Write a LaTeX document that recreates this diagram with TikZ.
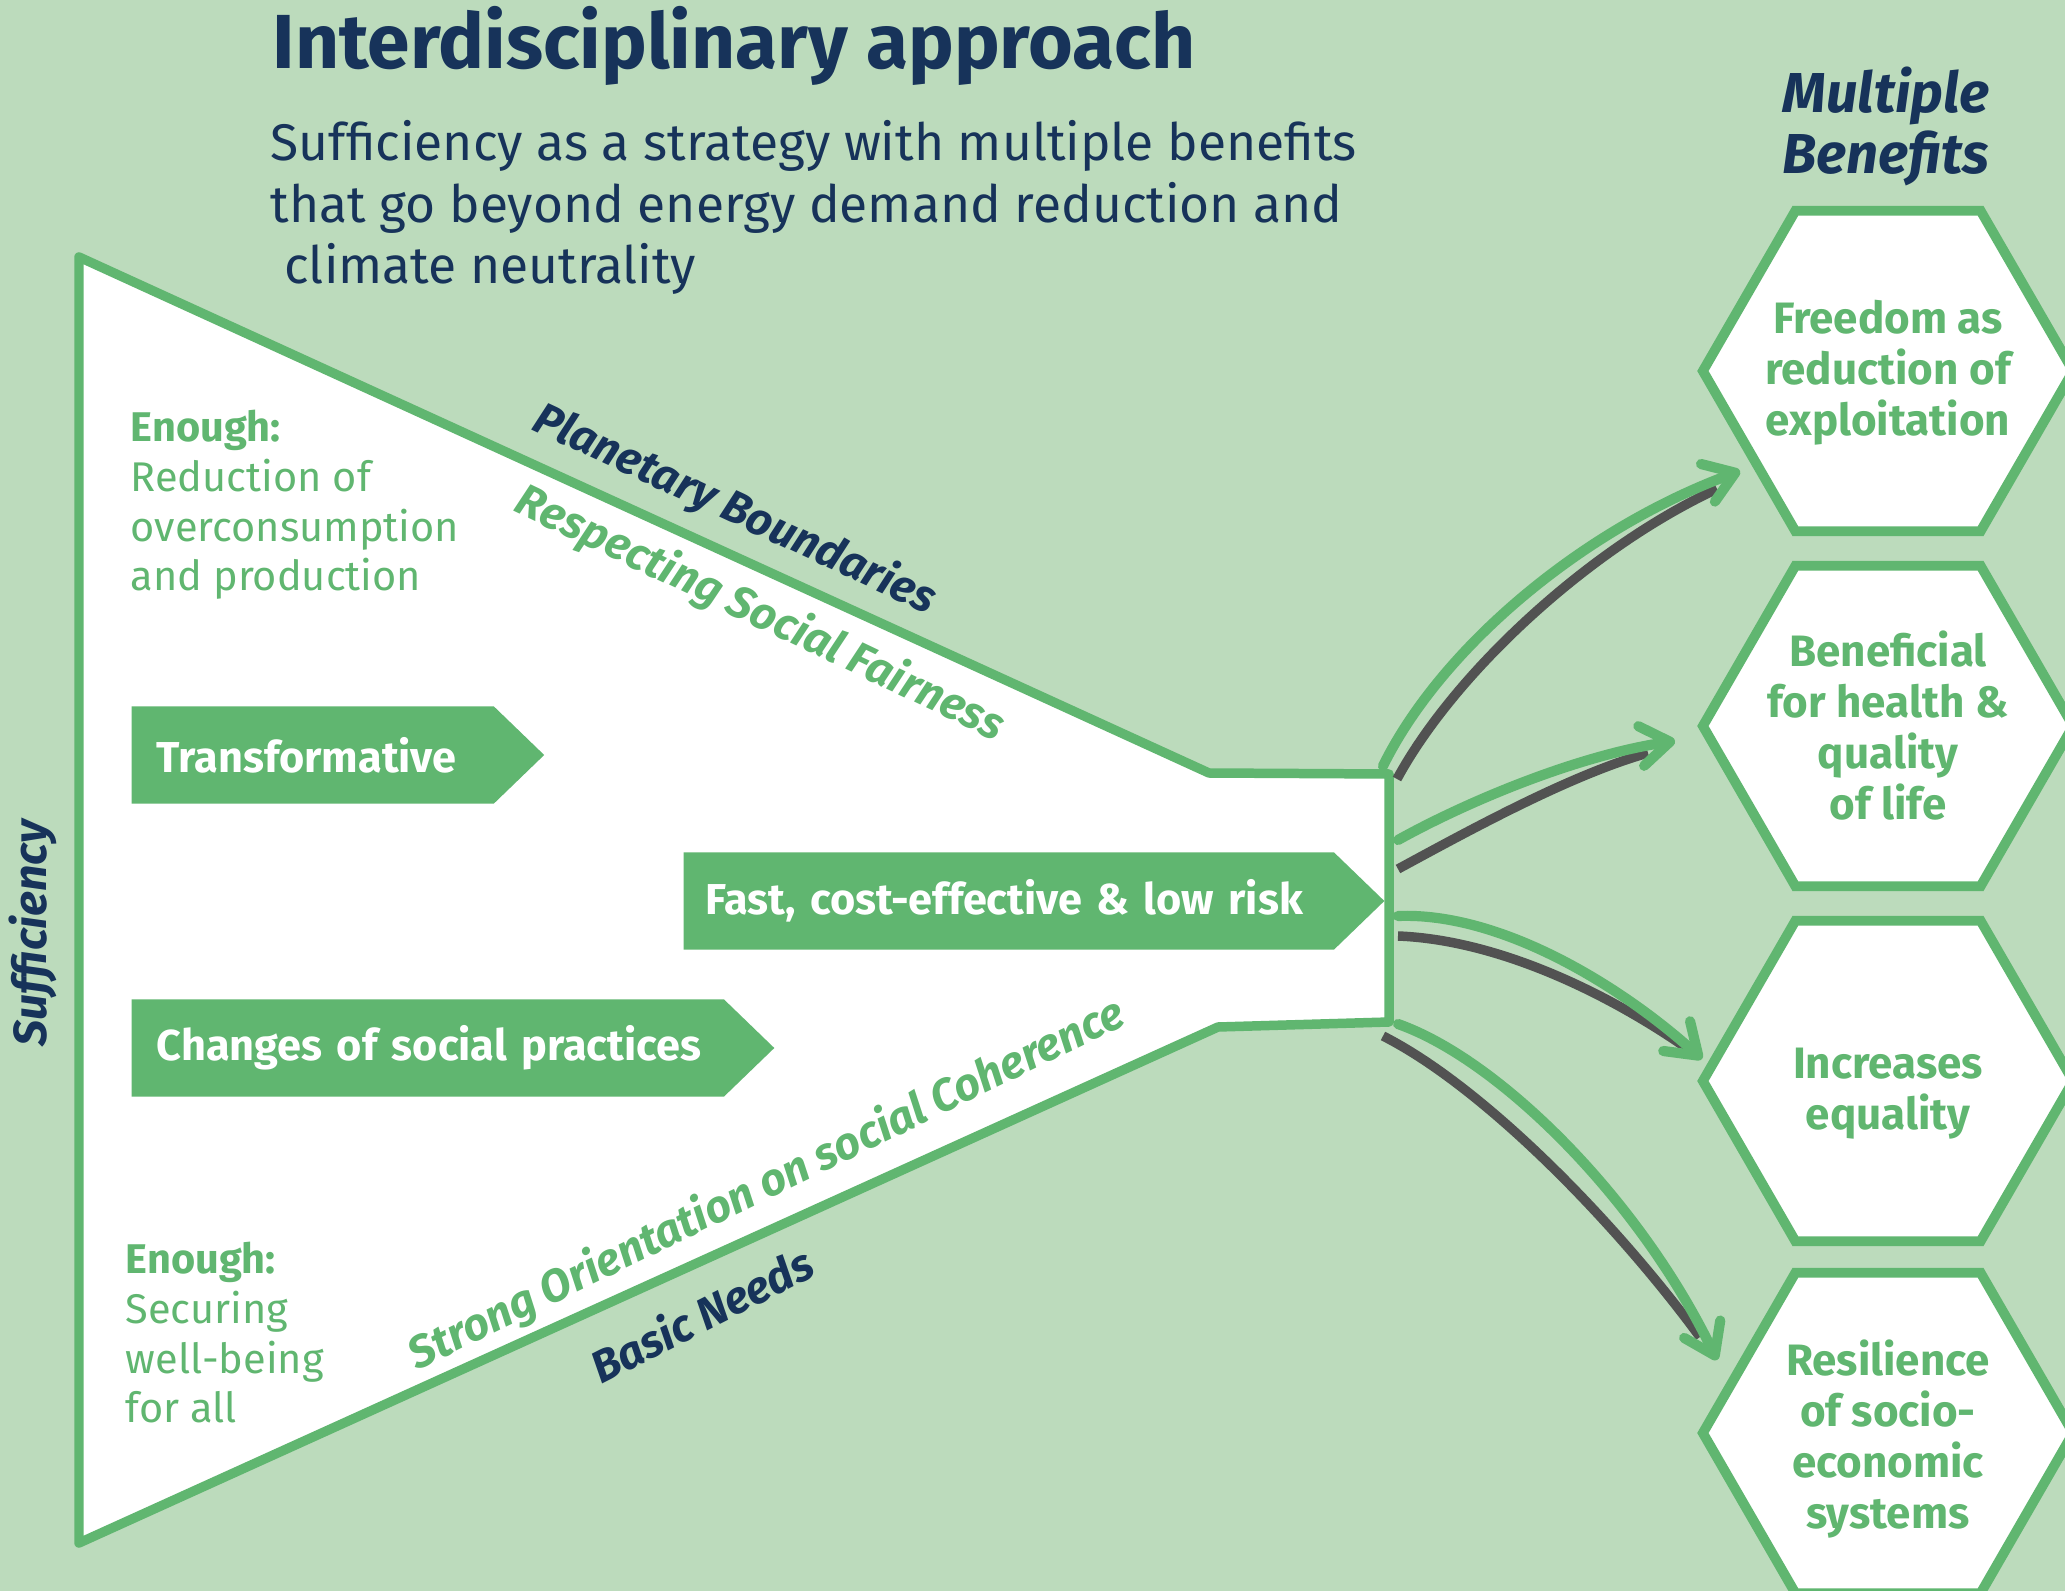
\documentclass[tikz,border=0pt]{standalone}
\usepackage{fontspec}
\setmainfont{Fira Sans}
\usetikzlibrary{arrows.meta,shapes.geometric,shapes.symbols}
\definecolor{mint}{HTML}{BCDBBC}
\definecolor{leaf}{HTML}{60B670}
\definecolor{ink}{HTML}{17335A}
\definecolor{slate}{HTML}{525252}
\newcommand{\fs}[2]{\fontsize{#1}{#2}\selectfont}

\begin{document}
\begin{tikzpicture}[x=0.01cm, y=-0.01cm]
    \tikzstyle{benefit} = [draw=leaf, line width=2.8pt, fill=white, regular polygon, regular polygon sides=6, minimum size=3.7cm, inner sep=0pt]
    \tikzstyle{benefittext} = [text=leaf, font=\fs{12.5}{14.5}\bfseries, align=center]
    \tikzstyle{banner} = [fill=leaf, signal, signal to=east, signal pointer angle=88, minimum height=0.97cm, inner ysep=0pt, text=white, font=\fs{12.3}{14}\bfseries, align=left, anchor=west]
    \tikzstyle{bound} = [text=ink, font=\fs{12.8}{15}\bfseries\itshape]
    \tikzstyle{pledge} = [text=leaf, font=\fs{12.8}{15}\bfseries\itshape]
    \tikzstyle{enough} = [text=leaf, font=\fs{11.8}{14.2}, align=left, anchor=north west, inner sep=0pt]
    \tikzstyle{flow} = [leaf, line width=2.9pt, line cap=round, -{Straight Barb[length=2.9mm, width=4mm, round]}]
    \tikzstyle{backflow} = [slate, line width=2.7pt]

    \fill[mint] (0,0) rectangle (2065,1591);
    \useasboundingbox (0,0) rectangle (2065,1591);

    \node[anchor=base west, text=ink, font=\fs{21.8}{26}\bfseries, inner sep=0pt] (title) at (272,69) {Interdisciplinary approach};
    \node[anchor=north west, text=ink, font=\fs{14.65}{17.4}, align=left, inner sep=0pt] (sub) at (270,120) {Sufficiency as a strategy with multiple benefits\\that go beyond energy demand reduction and\\\ climate neutrality};
    \node[anchor=north, text=ink, font=\fs{16}{17.5}\bfseries\itshape, align=center, inner sep=0pt] (multi) at (1886,66) {Multiple\\Benefits};

    \draw[leaf, line width=2.7pt, fill=white, line join=round] (79,257) -- (1209,773) -- (1389,774) -- (1389,1022) -- (1218,1027) -- (79,1543) -- cycle;

    \node[bound, font=\fs{13.2}{15}\bfseries\itshape, rotate=90] (suff) at (33,933) {Sufficiency};
    \node[bound, rotate=-25] (planet) at (735,510) {Planetary Boundaries};
    \node[pledge, rotate=-25.5] (fair) at (760,614) {Respecting Social Fairness};
    \node[pledge, rotate=26] (cohere) at (767,1185) {Strong Orientation on social Coherence};
    \node[bound, rotate=27] (needs) at (701,1314) {Basic Needs};

    \node[enough] (enoughtop) at (130,409) {\textbf{Enough:}\\Reduction of\\overconsumption\\and production};
    \node[enough] (enoughbot) at (125,1241) {\textbf{Enough:}\\Securing\\well-being\\for all};

    \node[banner, text width=3.12cm, inner xsep=0.25cm] (transform) at (131,755) {Transformative};
    \node[banner, text width=6.06cm, inner xsep=0.22cm] (fast) at (683,901) {Fast, cost-effective \& low risk};
    \node[banner, text width=5.42cm, inner xsep=0.25cm] (practice) at (131,1048) {\mbox{Changes of social practices}};

    \node[benefit] (hex1) at (1888,371) {};
    \node[benefit] (hex2) at (1888,726) {};
    \node[benefit] (hex3) at (1888,1081) {};
    \node[benefit] (hex4) at (1888,1433) {};
    \node[benefittext] (hex1txt) at (1888,373) {Freedom as\\reduction of\\exploitation};
    \node[benefittext] (hex2txt) at (hex2) {Beneficial\\for health \&\\quality\\of life};
    \node[benefittext] (hex3txt) at (1888,1094) {Increases\\equality};
    \node[benefittext] (hex4txt) at (1888,1439) {Resilience\\of socio-\\economic\\systems};

    \coordinate (g1) at (1383,766);  \coordinate (d1) at (1397,779);
    \coordinate (t1) at (1740,471);  \coordinate (e1) at (1717,489);
    \coordinate (g2) at (1398,840);  \coordinate (d2) at (1398,869);
    \coordinate (t2) at (1675,741);  \coordinate (e2) at (1648,753);
    \coordinate (g3) at (1398,916);  \coordinate (d3) at (1398,936);
    \coordinate (t3) at (1702,1059); \coordinate (e3) at (1685,1047);
    \coordinate (g4) at (1398,1024); \coordinate (d4) at (1383,1036);
    \coordinate (t4) at (1717,1360); \coordinate (e4) at (1700,1337);

    \draw[backflow] (d1) .. controls (1455,672) and (1590,548) .. (e1);
    \draw[flow] (g1) .. controls (1440,650) and (1580,530) .. (t1);
    \draw[backflow] (d2) .. controls (1470,830) and (1570,775) .. (e2);
    \draw[flow] (g2) .. controls (1470,800) and (1580,755) .. (t2);
    \draw[backflow] (d3) .. controls (1500,940) and (1610,995) .. (e3);
    \draw[flow] (g3) .. controls (1500,912) and (1620,985) .. (t3);
    \draw[backflow] (d4) .. controls (1480,1085) and (1610,1215) .. (e4);
    \draw[flow] (g4) .. controls (1500,1060) and (1640,1200) .. (t4);
\end{tikzpicture}
\end{document}
